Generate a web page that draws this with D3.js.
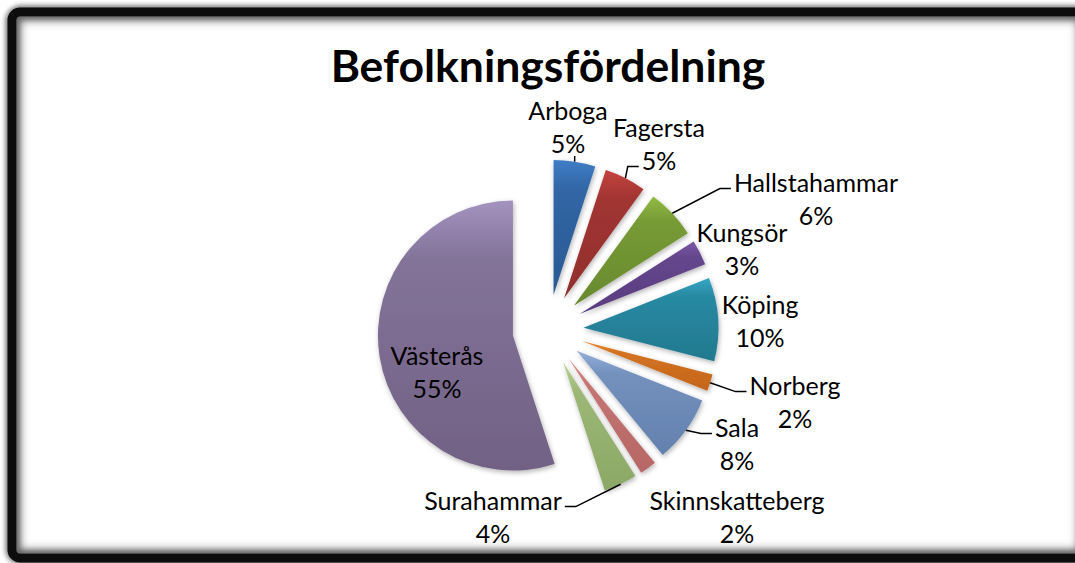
<!DOCTYPE html>
<html>
<head>
<meta charset="utf-8">
<script src="https://cdn.jsdelivr.net/npm/d3@7"></script>
<style>
  html, body { margin: 0; padding: 0; background: #fff; overflow: hidden; }
  svg { display: block; }
  text { font-family: Lato, "Open Sans", sans-serif; fill: #000; }
</style>
</head>
<body>
<div id="chart"></div>
<script>
// data
const municipalities = ["Arboga", "Fagersta", "Hallstahammar", "Kungsör", "Köping",
  "Norberg", "Sala", "Skinnskatteberg", "Surahammar", "Västerås"]
const shares = [5, 5, 6, 3, 10, 2, 8, 2, 4, 55]
const title = "Befolkningsfördelning"

// slice colours (light top -> dark bottom)
const topColors = ["#3f7dc6", "#c4423e", "#93bb44", "#7b58a8", "#34a6c4",
  "#f08c30", "#93aedb", "#de908e", "#b9d494", "#a393bf"]
const bottomColors = ["#2a5993", "#902e2c", "#68892e", "#583d7e", "#22798f",
  "#c4651b", "#6381ae", "#b66765", "#8ca866", "#716184"]

// label placement, relative to the pie centre (x centre, first baseline)
const labelPos = [[20, -210], [111, -193], [268, -138], [194, -88], [212, -16],
  [247, 65], [189, 107], [189, 180], [-55, 180], [-111, 35]]
// where the leader line meets the label: none, bottom, left, right (+ line index)
const leaderSide = ["bottom", "left1", "left0", "none", "none",
  "left0", "left0", "none", "right0", "none"]

const width = 1075, height = 563
const cx = 548, cy = 330, radius = 135, explode = 35.5
const lineH = 33

const svg = d3.select("#chart").append("svg")
  .attr("width", width)
  .attr("height", height)

const defs = svg.append("defs")

defs.append("filter").attr("id", "blurOuter")
  .attr("x", "-5%").attr("y", "-5%").attr("width", "110%").attr("height", "110%")
  .append("feGaussianBlur").attr("stdDeviation", 2.5)

defs.append("filter").attr("id", "blurInner")
  .attr("x", "-5%").attr("y", "-5%").attr("width", "110%").attr("height", "110%")
  .append("feGaussianBlur").attr("stdDeviation", 5)

const shadow = defs.append("filter").attr("id", "sliceShadow")
  .attr("x", "-20%").attr("y", "-20%").attr("width", "140%").attr("height", "140%")
shadow.append("feDropShadow")
  .attr("dx", 1).attr("dy", 2).attr("stdDeviation", 2.5)
  .attr("flood-color", "#000").attr("flood-opacity", 0.3)

// frame: left, top and bottom edges are drawn; the right edge is off the picture,
// only its inner shade shows
const frameRight = 1086
const frame = { x: 12, y: 12, w: frameRight - 12, h: 546 }

defs.append("clipPath").attr("id", "frameInside")
  .append("rect").attr("x", 17).attr("y", 17).attr("width", width).attr("height", 536)

svg.append("rect")
  .attr("x", frame.x).attr("y", frame.y).attr("width", frame.w).attr("height", frame.h).attr("rx", 9)
  .attr("fill", "none").attr("stroke", "#000").attr("stroke-width", 13)
  .attr("opacity", 0.55).attr("filter", "url(#blurOuter)")

svg.append("g").attr("clip-path", "url(#frameInside)")
  .append("rect")
  .attr("x", frame.x).attr("y", frame.y).attr("width", frame.w).attr("height", frame.h).attr("rx", 9)
  .attr("fill", "none").attr("stroke", "#666").attr("stroke-width", 16)
  .attr("filter", "url(#blurInner)")

svg.append("rect")
  .attr("x", frame.x).attr("y", frame.y).attr("width", frame.w).attr("height", frame.h).attr("rx", 8)
  .attr("fill", "none").attr("stroke", "#0d0d0d").attr("stroke-width", 9)

// gradients for the slices
municipalities.forEach((m, i) => {
  const g = defs.append("linearGradient").attr("id", "grad" + i)
    .attr("x1", 0).attr("y1", 0).attr("x2", 0).attr("y2", 1)
  g.append("stop").attr("offset", "0%").attr("stop-color", topColors[i])
  g.append("stop").attr("offset", "22%").attr("stop-color", d3.interpolateRgb(topColors[i], bottomColors[i])(0.65))
  g.append("stop").attr("offset", "100%").attr("stop-color", bottomColors[i])
})

// title
svg.append("text")
  .attr("x", cx).attr("y", 82)
  .attr("text-anchor", "middle")
  .style("font-size", "44.5px").style("font-weight", "bold")
  .text(title)

// pie
const pie = d3.pie().sort(null).value(d => d)
const arcs = pie(shares)
const arc = d3.arc().innerRadius(0).outerRadius(radius)

const mid = d => (d.startAngle + d.endAngle) / 2
const offset = (d, k) => [Math.sin(mid(d)) * k, -Math.cos(mid(d)) * k]

const chart = svg.append("g").attr("transform", "translate(" + cx + "," + cy + ")")

chart.selectAll("path.slice")
  .data(arcs)
  .enter()
  .append("path")
  .attr("class", "slice")
  .attr("d", arc)
  .attr("transform", d => "translate(" + offset(d, explode) + ")")
  .attr("fill", (d, i) => "url(#grad" + i + ")")
  .attr("filter", "url(#sliceShadow)")

// labels
const labels = chart.selectAll("text.label")
  .data(arcs)
  .enter()
  .append("text")
  .attr("class", "label")
  .attr("text-anchor", "middle")
  .attr("transform", (d, i) => "translate(" + labelPos[i] + ")")
  .style("font-size", "25px")

labels.append("tspan").attr("x", 0).attr("y", 0)
  .text((d, i) => municipalities[i])
labels.append("tspan").attr("x", 0).attr("y", lineH)
  .text(d => Math.round(d.data) + "%")

// leader lines
labels.each(function (d, i) {
  const side = leaderSide[i]
  if (side === "none") return
  const start = offset(d, explode + radius)
  const spans = d3.select(this).selectAll("tspan").nodes()
  let pts
  if (side === "bottom") {
    const b = spans[1].getBBox()
    pts = [start, [start[0], labelPos[i][1] + b.y + b.height - 2]]
  } else {
    const b = spans[+side.slice(-1)].getBBox()
    const ex = side.startsWith("left") ? labelPos[i][0] + b.x - 3 : labelPos[i][0] + b.x + b.width + 3
    const ey = labelPos[i][1] + b.y + b.height * 0.72
    const dir = side.startsWith("left") ? -11 : 11
    pts = [start, [ex + dir, ey], [ex, ey]]
  }
  chart.append("path")
    .attr("d", d3.line()(pts))
    .attr("fill", "none")
    .attr("stroke", "#000")
    .attr("stroke-width", 1.5)
})
</script>
</body>
</html>
